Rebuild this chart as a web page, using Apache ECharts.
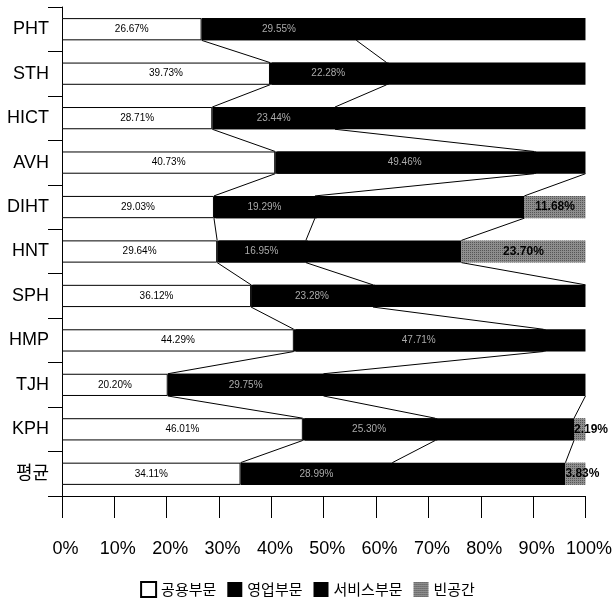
<!DOCTYPE html>
<html>
<head>
<meta charset="utf-8">
<script src="https://cdn.jsdelivr.net/npm/echarts@6/dist/echarts.min.js"></script>
<style>
html,body{margin:0;padding:0;background:#fff;}
#chart{width:615px;height:613px;}
</style>
</head>
<body>
<div id="chart"></div>
<script>
var categories = ['PHT','STH','HICT','AVH','DIHT','HNT','SPH','HMP','TJH','KPH','평균'];
var seriesNames = ['공용부문','영업부문','서비스부문','빈공간'];
var publicArea  = [26.67, 39.73, 28.71, 40.73, 29.03, 29.64, 36.12, 44.29, 20.20, 46.01, 34.11];
var salesArea   = [29.55, 22.28, 23.44, 49.46, 19.29, 16.95, 23.28, 47.71, 29.75, 25.30, 28.99];
var serviceArea = [43.78, 37.99, 47.85,  9.81, 40.00, 29.71, 40.60,  8.00, 50.05, 26.50, 33.07];
var emptyArea   = [0, 0, 0, 0, 11.68, 23.70, 0, 0, 0, 2.19, 3.83];
var xTicks = [0,10,20,30,40,50,60,70,80,90,100];

var FONT = "'Liberation Sans', Arial, 'Noto Sans CJK KR', sans-serif";
var KFONT = "'Noto Sans CJK KR', 'Liberation Sans', sans-serif";

// cumulative boundaries for connector lines
var lineData = [];
for (var i = 0; i < categories.length - 1; i++) {
  var a = [publicArea[i], publicArea[i] + salesArea[i], publicArea[i] + salesArea[i] + serviceArea[i]];
  var b = [publicArea[i+1], publicArea[i+1] + salesArea[i+1], publicArea[i+1] + salesArea[i+1] + serviceArea[i+1]];
  for (var k = 0; k < 3; k++) {
    if (a[k] > 99.95 && b[k] > 99.95) continue;
    lineData.push([a[k], i, b[k], i + 1]);
  }
}

var chart = echarts.init(document.getElementById('chart'), null, {renderer: 'canvas'});

function pctFmt(p) { return p.value ? p.value.toFixed(2) + '%' : ''; }

var option = {
  animation: false,
  backgroundColor: '#fff',
  grid: {left: 62, right: 29, top: 7, bottom: 117, containLabel: false},
  legend: {
    bottom: 10,
    left: 'center',
    itemWidth: 15,
    itemHeight: 15,
    itemGap: 11,
    icon: 'rect',
    textStyle: {fontFamily: KFONT, fontSize: 15, color: '#000'},
    data: seriesNames
  },
  xAxis: {
    type: 'value',
    min: xTicks[0],
    max: xTicks[xTicks.length - 1],
    interval: 10,
    axisLine: {show: true, lineStyle: {color: '#000', width: 1}},
    axisTick: {show: true, length: 22, lineStyle: {color: '#000'}},
    splitLine: {show: false},
    axisLabel: {
      formatter: '{value}%', color: '#000', fontSize: 18, fontFamily: FONT, margin: 44,
      padding: [0, 0, 0, 7]
    }
  },
  yAxis: {
    type: 'category',
    data: categories,
    inverse: true,
    axisLine: {show: true, lineStyle: {color: '#000', width: 1}},
    axisTick: {show: true, length: 14, lineStyle: {color: '#000'}},
    axisLabel: {color: '#000', fontSize: 18, fontFamily: FONT, margin: 13}
  },
  series: [
    {
      name: seriesNames[0], type: 'bar', stack: 'total', barWidth: '50%',
      data: publicArea,
      itemStyle: {color: '#fff', borderColor: '#000', borderWidth: 1},
      label: {show: true, position: 'inside', formatter: pctFmt, color: '#000', fontSize: 10, fontFamily: FONT}
    },
    {
      name: seriesNames[1], type: 'bar', stack: 'total', barWidth: '50%',
      data: salesArea,
      z: 3,
      itemStyle: {color: '#000', borderWidth: 0, shadowColor: '#000', shadowBlur: 0, shadowOffsetX: 2},
      label: {show: true, position: 'inside', formatter: pctFmt, color: '#aaa', fontSize: 10, fontFamily: FONT}
    },
    {
      name: seriesNames[2], type: 'bar', stack: 'total', barWidth: '50%',
      data: serviceArea,
      z: 2,
      itemStyle: {color: '#000', borderWidth: 0},
      label: {show: false}
    },
    {
      name: seriesNames[3], type: 'bar', stack: 'total', barWidth: '50%',
      data: emptyArea.map(function (v) {
        return {value: v, label: {position: v < 5 ? 'insideLeft' : 'inside', distance: 0}};
      }),
      z: 4,
      itemStyle: {
        color: '#8e8e8e',
        decal: {symbol: 'rect', symbolSize: 1, dashArrayX: [1, 1], dashArrayY: [1, 1], color: 'rgba(40,40,40,0.55)'}
      },
      label: {show: true, position: 'inside', formatter: pctFmt, color: '#000', fontSize: 12, fontWeight: 'bold', fontFamily: FONT}
    },
    {
      type: 'custom',
      name: 'connectors',
      silent: true,
      z: 5,
      encode: {x: [0, 2], y: [1, 3]},
      data: lineData,
      renderItem: function (params, api) {
        var p1 = api.coord([api.value(0), api.value(1)]);
        var p2 = api.coord([api.value(2), api.value(3)]);
        var half = api.size([0, 1])[1] * 0.25;
        return {
          type: 'line',
          shape: {x1: p1[0], y1: p1[1] + half, x2: p2[0], y2: p2[1] - half},
          style: {stroke: '#000', lineWidth: 1}
        };
      }
    }
  ]
};
chart.setOption(option);
</script>
</body>
</html>
